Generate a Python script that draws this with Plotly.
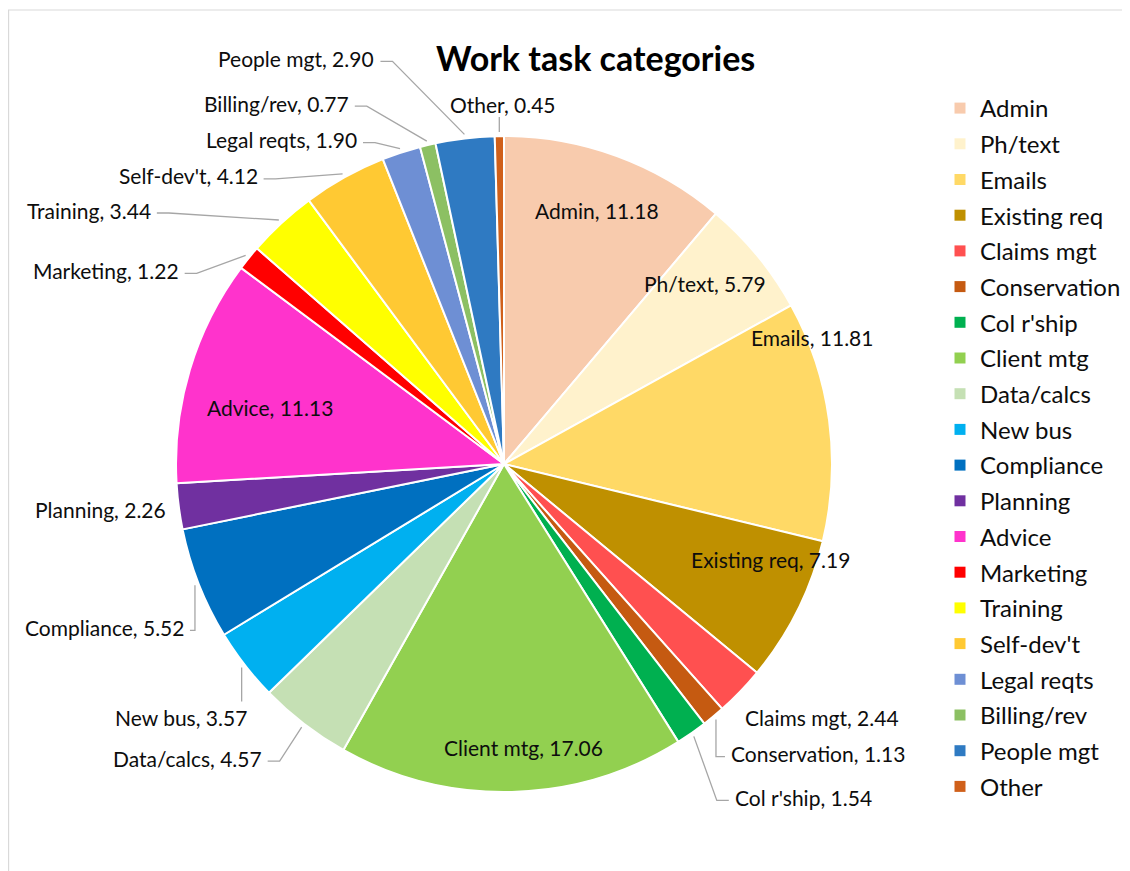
import numpy as np
import plotly.graph_objects as go

# ---------------- data ----------------
categories = ["Admin", "Ph/text", "Emails", "Existing req", "Claims mgt", "Conservation",
              "Col r'ship", "Client mtg", "Data/calcs", "New bus", "Compliance", "Planning",
              "Advice", "Marketing", "Training", "Self-dev't", "Legal reqts", "Billing/rev",
              "People mgt", "Other"]
values = [11.18, 5.79, 11.81, 7.19, 2.44, 1.13, 1.54, 17.06, 4.57, 3.57, 5.52, 2.26,
          11.13, 1.22, 3.44, 4.12, 1.90, 0.77, 2.90, 0.45]
title_text = "Work task categories"

# ---------------- style ----------------
colors = ["#F8CBAD", "#FFF2CC", "#FFD966", "#BF9000", "#FF5050", "#C55A11",
          "#00B050", "#92D050", "#C5E0B4", "#00B0F0", "#0070C0", "#7030A0",
          "#FF33CC", "#FF0000", "#FFFF00", "#FFC933", "#6E8FD4", "#8CC063",
          "#2F7AC2", "#D0601A"]
# label anchoring: 'C' centred, no leader; 'R' right end anchored + leader;
# 'L' left end anchored + leader; 'T' centred with leader from below; 'TR' right anchored, leader from above
label_anchor = ["C", "C", "C", "C", "C", "L", "L", "C", "R", "TR", "R", "C",
                "C", "R", "R", "R", "R", "R", "R", "T"]
# pixel offset of the label anchor from the slice's rim point
label_offset = [(-20, 54), (-53, 27), (-17, -83), (-27, -51), (82, 26), (13, 34),
                (39, 61), (12, -44), (-38, 31), (7, 50), (-9, 42), (-78, 3),
                (80, 38), (-65, 15), (-126, -10), (-83, 2), (-41, -9), (-76, -38),
                (-88, -76), (4, -28)]

W, H = 1130, 871
OFF = 8  # page body margin
CX, CY, R = 504 - OFF, 464 - OFF, 328
FONT = "Lato, 'Open Sans', sans-serif"
LINE_COL = "#A6A6A6"

def px2paper(x, y):
    return x / W, 1 - y / H

fig = go.Figure()
fig.add_trace(go.Pie(
    labels=categories, values=values, sort=False, direction="clockwise", rotation=0,
    marker=dict(colors=colors, line=dict(color="white", width=2)),
    textinfo="none", hoverinfo="label+value", showlegend=False,
    domain=dict(x=[(CX - R) / W, (CX + R) / W], y=[1 - (CY + R) / H, 1 - (CY - R) / H]),
))

# legend entries (one per category, via empty marker traces)
for i, (c, col) in enumerate(zip(categories, colors)):
    fig.add_trace(go.Scatter(x=[None], y=[None], mode="markers", name=c,
                             legendgroup=str(i),
                             marker=dict(symbol="square", size=11, color=col)))

# data labels derived from slice angles
vals = np.array(values)
frac = vals / vals.sum()
mid = (np.cumsum(frac) - frac / 2) * 2 * np.pi  # clockwise from 12 o'clock
annotations = []
shapes = []
for i, c in enumerate(categories):
    mode = label_anchor[i]
    rr = R if mode == "C" else R + 4
    tx = CX + rr * np.sin(mid[i])
    ty = CY - rr * np.cos(mid[i])
    ax, ay = label_offset[i]
    lx, ly = tx + ax, ty + ay
    xa = {"C": "center", "T": "center", "R": "right", "TR": "right", "L": "left"}[mode]
    x, y = px2paper(lx, ly)
    annotations.append(dict(
        x=x, y=y, xref="paper", yref="paper", xanchor=xa, yanchor="middle",
        text=f"{c}, {values[i]:.2f}", showarrow=False,
        font=dict(family=FONT, size=21, color="#0D0D0D"),
    ))
    pts = None
    if mode in ("R", "L"):
        sx = lx + (4 if mode == "R" else -4)
        sy = ly + 3
        d = tx - sx
        stub = np.sign(d) * min(12, abs(d))
        pts = [(sx, sy), (sx + stub, sy), (tx, ty)]
    elif mode == "T":
        pts = [(tx, ly + 13), (tx, ty)]
    elif mode == "TR":
        pts = [(tx, ly - 16), (tx, ty)]
    if pts:
        path = "M " + " L ".join(f"{p[0] / W:.5f},{1 - p[1] / H:.5f}" for p in pts)
        shapes.append(dict(type="path", xref="paper", yref="paper", path=path,
                           line=dict(color=LINE_COL, width=1.3)))

# title
annotations.append(dict(x=(595 - OFF) / W, y=1 - (57 - OFF) / H, xref="paper", yref="paper",
                        xanchor="center", yanchor="middle",
                        text=f"<b>{title_text}</b>", showarrow=False,
                        font=dict(family=FONT, size=34, color="#000000")))

shapes += [
    dict(type="line", xref="paper", yref="paper", x0=0, x1=1.0,
         y0=1 - (10 - OFF) / H, y1=1 - (10 - OFF) / H,
         line=dict(color="#D9D9D9", width=1.2)),
    dict(type="line", xref="paper", yref="paper", x0=0.0005, x1=0.0005, y0=0,
         y1=1 - (10 - OFF) / H, line=dict(color="#D9D9D9", width=1.2)),
]

fig.update_layout(
    width=W, height=H, margin=dict(l=0, r=0, t=0, b=0),
    paper_bgcolor="white", plot_bgcolor="white",
    xaxis=dict(visible=False), yaxis=dict(visible=False),
    annotations=annotations, shapes=shapes,
    legend=dict(x=(980 - 40 - OFF) / W, y=1 - (86 - OFF) / H, xanchor="left", yanchor="top",
                font=dict(family=FONT, size=24, color="#0D0D0D"),
                traceorder="grouped", tracegroupgap=1.5, itemclick=False),
)

fig.write_html("out.html")
